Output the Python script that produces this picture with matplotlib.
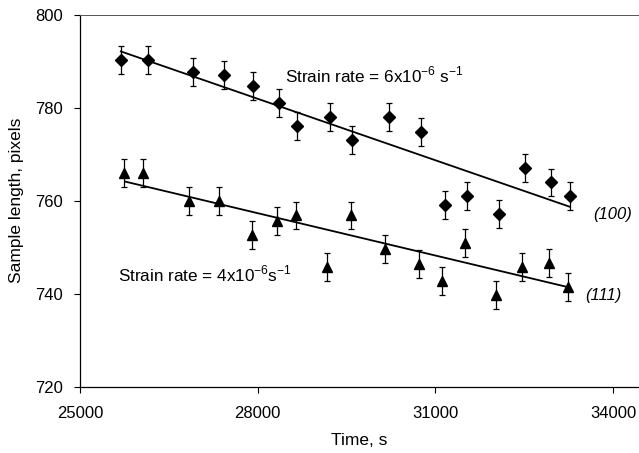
import matplotlib
matplotlib.use("Agg")
import matplotlib.pyplot as plt

# Data
time_100 = [25690, 26150, 26910, 27440, 27920, 28365, 28670, 29215, 29600, 30215,
            30760, 31165, 31530, 32075, 32510, 32960, 33270]
len_100 = [790.2, 790.2, 787.7, 787.1, 784.7, 781.0, 776.1, 777.9, 773.1, 777.9,
           774.8, 759.1, 761.0, 757.2, 767.0, 763.9, 760.9]
time_111 = [25745, 26070, 26845, 27345, 27900, 28330, 28645, 29175, 29575, 30155,
            30730, 31115, 31500, 32020, 32470, 32925, 33235]
len_111 = [765.9, 765.9, 760.0, 760.0, 752.6, 755.7, 756.8, 745.8, 756.8, 749.6,
           746.4, 742.7, 750.8, 739.6, 745.8, 746.5, 741.5]
err = 3.0

trend_100_x = [25690, 33265]
trend_100_y = [792.1, 758.7]
trend_111_x = [25760, 33235]
trend_111_y = [764.1, 741.4]

xticks = [25000, 28000, 31000, 34000]
yticks = [720, 740, 760, 780, 800]

plt.rcParams['font.family'] = ['Liberation Sans', 'DejaVu Sans']
fig = plt.figure(figsize=(6.39, 4.53), dpi=100)
ax = fig.add_axes([80/639, 1 - 386.5/453, 1 - 80/639, (386.5 - 14.7)/453])

ax.errorbar(time_100, len_100, yerr=err, fmt='D', color='black', ms=6.3,
            ecolor='black', elinewidth=0.9, capsize=2.5, capthick=0.9, zorder=3)
ax.errorbar(time_111, len_111, yerr=err, fmt='^', color='black', ms=7.8,
            ecolor='black', elinewidth=0.9, capsize=2.5, capthick=0.9, zorder=3)
ax.plot(trend_100_x, trend_100_y, color='black', lw=1.3, zorder=2)
ax.plot(trend_111_x, trend_111_y, color='black', lw=1.3, zorder=2)

ax.set_xlim(25000, 34440)
ax.set_ylim(720, 800)
ax.set_xticks(xticks)
ax.set_yticks(yticks)
ax.tick_params(direction='out', length=4, width=0.8, labelsize=12, colors='black')
ax.tick_params(axis='x', pad=10)
ax.tick_params(axis='y', pad=8)

ax.spines['right'].set_visible(False)
ax.spines['top'].set_linestyle((0, (1, 1)))
ax.spines['top'].set_linewidth(0.7)
ax.spines['top'].set_color('#555555')
ax.spines['left'].set_linewidth(0.9)
ax.spines['bottom'].set_linewidth(0.9)

ax.set_xlabel('Time, s', fontsize=12.5, labelpad=9)
ax.set_ylabel('Sample length, pixels', fontsize=12.5, labelpad=8)

ax.text(28460, 787.1, r'Strain rate = 6x10$^{\mathregular{-6}}$ s$^{\mathregular{-1}}$',
        fontsize=12.3, va='center', ha='left')
ax.text(25642, 744.2, r'Strain rate = 4x10$^{\mathregular{-6}}$s$^{\mathregular{-1}}$',
        fontsize=12.3, va='center', ha='left')
ax.text(33663, 757.0, '(100)', fontsize=12, style='italic', va='center', ha='left')
ax.text(33527, 739.6, '(111)', fontsize=12, style='italic', va='center', ha='left')

fig.savefig('out.png', dpi=100)
